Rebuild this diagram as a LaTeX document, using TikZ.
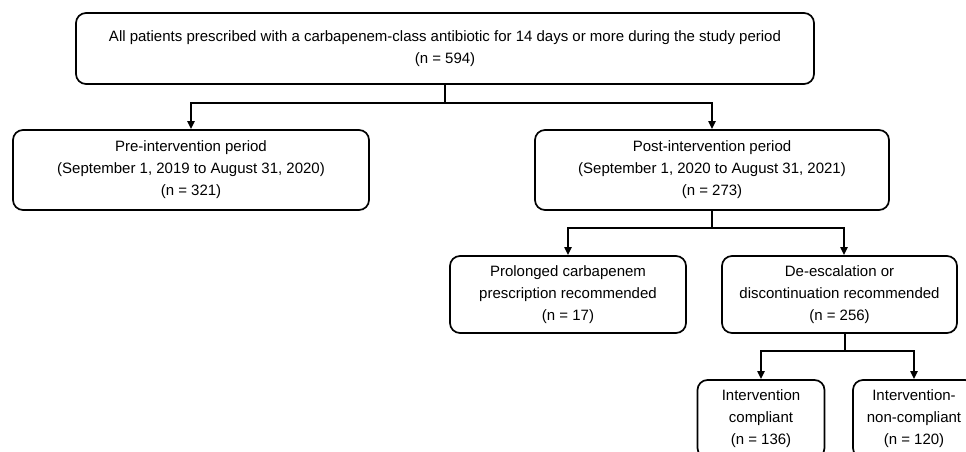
\documentclass[tikz,border=0pt]{standalone}
\usepackage{fontspec}
\setmainfont{Liberation Sans}
\usetikzlibrary{arrows.meta,calc}
\tikzset{
  box/.style={draw, line width=1.7pt, rounded corners=10pt, align=center, inner sep=0pt,
    font=\fontsize{15}{22}\selectfont},
  conn/.style={line width=1.9pt},
  arr/.style={conn, -{Triangle[length=8pt,width=7pt]}}
}
\begin{document}
\begin{tikzpicture}[x=1pt,y=-1pt]
\useasboundingbox (0,0) rectangle (966,452);
\clip (0,0) rectangle (966,452);
\node[box, minimum width=738pt, minimum height=71pt] (top) at (445,48.5)
  {All patients prescribed with a carbapenem-class antibiotic for 14 days or more during the study period\\(n = 594)};
\node[box, minimum width=356pt, minimum height=80pt] (pre) at (191,170)
  {Pre-intervention period\\(September 1, 2019 to August 31, 2020)\\(n = 321)};
\node[box, minimum width=354pt, minimum height=80pt] (post) at (712,170)
  {Post-intervention period\\(September 1, 2020 to August 31, 2021)\\(n = 273)};
\node[box, minimum width=236pt, minimum height=77pt] (prol) at (568,294.5)
  {Prolonged carbapenem\\prescription recommended\\(n = 17)};
\node[box, minimum width=235pt, minimum height=77pt] (desc) at (839.5,294.5)
  {De-escalation or\\discontinuation recommended\\(n = 256)};
\node[box, minimum width=127pt, minimum height=78pt] (comp) at (761,419)
  {Intervention\\compliant\\(n = 136)};
\node[box, minimum width=122pt, minimum height=78pt] (nonc) at (914,419)
  {Intervention-\\non-compliant\\(n = 120)};
\coordinate (j1) at (top.south |- 0,103);
\coordinate (j2) at (post.south |- 0,228);
\coordinate (d1) at ([xshift=5.5pt]desc.south);
\coordinate (d2) at ([xshift=4.5pt]desc.north);
\coordinate (j3) at (d1 |- 0,351);
\draw[arr] (top.south) -- (j1) -| (pre.north);
\draw[arr] (j1) -| (post.north);
\draw[arr] (post.south) -- (j2) -| (prol.north);
\draw[arr] (j2) -| (d2);
\draw[arr] (d1) -- (j3) -| (comp.north);
\draw[arr] (j3) -| (nonc.north);
\end{tikzpicture}
\end{document}
